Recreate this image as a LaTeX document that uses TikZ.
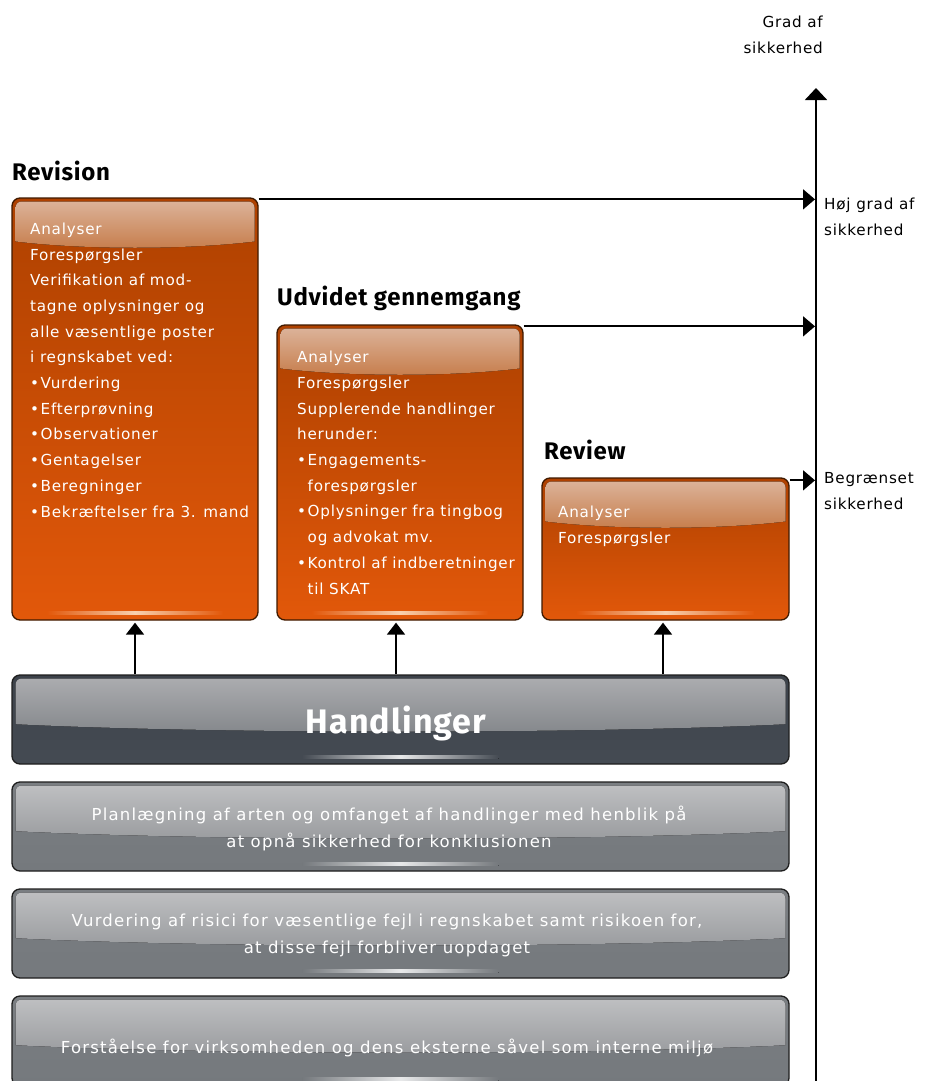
\documentclass[tikz,border=0pt]{standalone}
\usepackage{fontspec}
\setmainfont{DejaVu Sans}[LetterSpace=5]
\newfontfamily\grayfont{DejaVu Sans}[LetterSpace=7.5]
\newfontfamily\titlefont{Fira Sans}[LetterSpace=3]
\usetikzlibrary{arrows.meta}
\definecolor{orTop}{HTML}{AE4100}
\definecolor{orBot}{HTML}{E2580A}
\definecolor{orGlT}{HTML}{DDB69E}
\definecolor{orGlB}{HTML}{C67C4A}
\definecolor{orEdge}{HTML}{3F1A00}
\definecolor{orStreak}{HTML}{F8CFAE}
\definecolor{hdGlT}{HTML}{ADAEB1}
\definecolor{hdGlB}{HTML}{84878B}
\definecolor{hdBodyT}{HTML}{3C424A}
\definecolor{hdBodyB}{HTML}{454B53}
\definecolor{grGlT}{HTML}{C0C1C3}
\definecolor{grGlB}{HTML}{999B9E}
\definecolor{grBodyT}{HTML}{7A7E82}
\definecolor{grBodyB}{HTML}{75797D}
\definecolor{edgeC}{HTML}{1E1E1E}
\definecolor{grStreak}{HTML}{E8E9EA}
\tikzset{
  orbox/.style={draw=orEdge, line width=1.3pt, rounded corners=8pt,
    top color=orTop, bottom color=orBot, inner sep=0pt},
  hdbox/.style={draw=edgeC, line width=1.3pt, rounded corners=8pt,
    top color=hdBodyT, bottom color=hdBodyB, inner sep=0pt},
  grbox/.style={draw=edgeC, line width=1.3pt, rounded corners=8pt,
    top color=grBodyT, bottom color=grBodyB, inner sep=0pt},
  boxtext/.style={text=white, align=left, inner sep=0pt, anchor=base west,
    font=\fontsize{15.2}{25.7}\selectfont},
  graytext/.style={text=white, align=center, inner sep=0pt,
    font=\grayfont\fontsize{16.5}{27}\selectfont},
  titletext/.style={inner sep=0pt, anchor=base west,
    font=\titlefont\bfseries\fontsize{24}{28}\selectfont},
  sidetext/.style={inner sep=0pt, align=left, anchor=base west,
    font=\fontsize{15.2}{26}\selectfont},
  conn/.style={line width=1.8pt, draw=black},
  htip/.style={-{Triangle[width=20pt,length=12pt]}},
  vtip/.style={-{Triangle[width=18pt,length=12pt]}}
}
\newcommand\bul{\makebox[10.5pt][l]{\textbullet}}
\newcommand\ind{\hspace*{10.5pt}}
% orange box: name, x1, y1, x2, y2
\newcommand\OrBox[5]{%
  \node[orbox, minimum width={#4-#2}, minimum height={#5-#3}] (#1) at ({(#2+#4)/2},{(#3+#5)/2}) {};
  \begin{scope}
    \clip[rounded corners=6pt] (#2+3.5,#3+3.5) rectangle (#4-3.5,#5-3.5);
    \fill[top color=orGlT, bottom color=orGlB] (#2,#3) -- (#4,#3) -- (#4,#3+43)
      .. controls (#4-70,#3+52) and (#2+70,#3+52) .. (#2,#3+43) -- cycle;
  \end{scope}
  \fill[left color=orBot, right color=orBot, middle color=orStreak]
    (#2+35,#5-8.5) rectangle (#4-35,#5-5.5);
}
% gray box: name, x1, y1, x2, y2, style, gloss top, gloss bottom, body bottom
\newcommand\GrBox[9]{%
  \node[#6, minimum width={#4-#2}, minimum height={#5-#3}] (#1) at ({(#2+#4)/2},{(#3+#5)/2}) {};
  \begin{scope}
    \clip[rounded corners=6pt] (#2+3.5,#3+3.5) rectangle (#4-3.5,#5-3.5);
    \fill[top color=#7, bottom color=#8] (#2,#3) -- (#4,#3) -- (#4,#3+49)
      .. controls (#4-200,#3+59) and (#2+200,#3+59) .. (#2,#3+49) -- cycle;
  \end{scope}
  \fill[left color=#9, right color=#9, middle color=grStreak]
    ({(#2+#4)/2-98},#5-8.5) rectangle ({(#2+#4)/2+98},#5-5.5);
}
\begin{document}
\begin{tikzpicture}[x=1pt,y=-1pt]
\useasboundingbox[fill=white] (0,0) rectangle (927,1081);

% axis
\coordinate (axB) at (816,1090);
\coordinate (axT) at (816,88);
\draw[conn, -{Triangle[width=22pt,length=12pt]}] (axB) -- (axT);
\node[inner sep=0pt, align=right, anchor=base east, font=\fontsize{15.2}{26}\selectfont]
  (gradlbl) at (823,54) {Grad af\\sikkerhed};

% orange boxes
\OrBox{rev}{12}{198}{258}{620}
\OrBox{udv}{277}{325}{523}{620}
\OrBox{revw}{542}{478}{789}{620}

% titles
\node[titletext] (revtitle) at (12,180) {Revision};
\node[titletext] (udvtitle) at (277,305) {Udvidet gennemgang};
\node[titletext] (revwtitle) at (544,459) {Review};

% box texts (anchor = baseline of the last line)
\node[boxtext] (revtxt) at (30,517) {Analyser\\Forespørgsler\\Verifikation af mod-\\tagne oplysninger og\\alle væsentlige poster\\i regnskabet ved:\\\bul Vurdering\\\bul Efterprøvning\\\bul Observationer\\\bul Gentagelser\\\bul Beregninger\\\bul Bekræftelser fra 3. mand};
\node[boxtext] (udvtxt) at (297,594) {Analyser\\Forespørgsler\\Supplerende handlinger\\herunder:\\\bul Engagements-\\\ind forespørgsler\\\bul Oplysninger fra tingbog\\\ind og advokat mv.\\\bul Kontrol af indberetninger\\\ind til SKAT};
\node[boxtext] (revwtxt) at (558,543) {Analyser\\Forespørgsler};

% gray boxes
\GrBox{hand}{12}{675}{789}{764}{hdbox}{hdGlT}{hdGlB}{hdBodyB}
\GrBox{plan}{12}{782}{789}{871}{grbox}{grGlT}{grGlB}{grBodyB}
\GrBox{vurd}{12}{889}{789}{978}{grbox}{grGlT}{grGlB}{grBodyB}
\GrBox{forst}{12}{996}{789}{1086}{grbox}{grGlT}{grGlB}{grBodyB}

\node[inner sep=0pt, text=white, font=\titlefont\bfseries\fontsize{34}{40}\selectfont, anchor=base]
  (handtxt) at (396,733) {Handlinger};
\node[graytext, anchor=base] (plantxt) at (389,847) {Planlægning af arten og omfanget af handlinger med henblik på\\at opnå sikkerhed for konklusionen};
\node[graytext, anchor=base] (vurdtxt) at (387,953) {Vurdering af risici for væsentlige fejl i regnskabet samt risikoen for,\\at disse fejl forbliver uopdaget};
\node[graytext, anchor=base] (forsttxt) at (387,1053) {Forståelse for virksomheden og dens eksterne såvel som interne miljø};

% horizontal connectors to axis
\coordinate (revR) at ([yshift=-2pt]rev.north east);
\coordinate (udvR) at ([yshift=-2pt]udv.north east);
\coordinate (revwR) at ([yshift=-3pt]revw.north east);
\draw[conn, htip, shorten >=1pt] (revR) -- (revR -| axT);
\draw[conn, htip, shorten >=1pt] (udvR) -- (udvR -| axT);
\draw[conn, htip, shorten >=1pt] (revwR) -- (revwR -| axT);

\node[sidetext] (hojlbl) at (824,235) {Høj grad af\\sikkerhed};
\node[sidetext] (beglbl) at (824,509) {Begrænset\\sikkerhed};

% vertical connectors from Handlinger
\coordinate (revS) at (rev.south);
\coordinate (udvS) at ([xshift=-4pt]udv.south);
\coordinate (revwS) at ([xshift=-2.5pt]revw.south);
\draw[conn, vtip, shorten >=2pt] (revS |- hand.north) -- (revS);
\draw[conn, vtip, shorten >=2pt] (udvS |- hand.north) -- (udvS);
\draw[conn, vtip, shorten >=2pt] (revwS |- hand.north) -- (revwS);
\end{tikzpicture}
\end{document}
